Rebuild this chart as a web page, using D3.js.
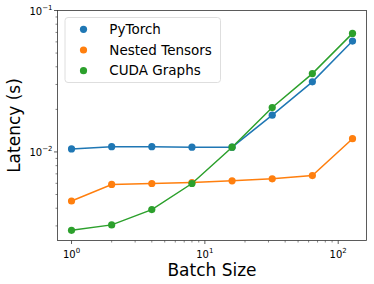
<!DOCTYPE html>
<html><head><meta charset="utf-8">
<script src="https://cdn.jsdelivr.net/npm/d3@7"></script>
<style>body{margin:0;background:#fff}svg{display:block}text{font-family:"DejaVu Sans",sans-serif}</style>
</head><body>
<script>
const batchSizes = [1, 2, 4, 8, 16, 32, 64, 128];
const pytorch = [0.0105, 0.0109, 0.0109, 0.0108, 0.0108, 0.0182, 0.0313, 0.0608];
const nested = [0.00450, 0.00589, 0.00598, 0.00608, 0.00625, 0.00645, 0.00681, 0.0124];
const cudaGraphs = [0.00279, 0.00305, 0.00391, 0.00598, 0.0108, 0.0206, 0.0358, 0.0689];
const seriesNames = ["PyTorch", "Nested Tensors", "CUDA Graphs"];
const colors = ["#1f77b4", "#ff7f0e", "#2ca02c"];
const xTicks = [1, 10, 100];
const yTicks = [0.01, 0.1];
const xTickLabels = ["0", "1", "2"];
const yTickLabels = ["−2", "−1"];

const W = 374, H = 284;
const L = 57.5, R = 366.5, T = 10.5, B = 240.5;
const svg = d3.select("body").append("svg").attr("width", W).attr("height", H);
const x = d3.scaleLog().domain([0.785, 163]).range([L, R]);
const y = d3.scaleLog().domain([0.002365, 0.1]).range([B, T]);

// minor ticks
const xMinor = [];
for (const d of [1, 10, 100]) for (let k = 2; k <= 9; k++) { const v = d * k; if (v >= 0.785 && v <= 163) xMinor.push(v); }
const yMinor = [];
for (const d of [0.001, 0.01]) for (let k = 2; k <= 9; k++) { const v = d * k; if (v >= 0.002365 && v <= 0.1) yMinor.push(v); }

const g = svg.append("g");
g.selectAll(".xmin").data(xMinor).join("line").attr("x1", d => x(d)).attr("x2", d => x(d)).attr("y1", B).attr("y2", B + 2).attr("stroke", "#333").attr("stroke-width", 0.6);
g.selectAll(".xmaj").data(xTicks).join("line").attr("x1", d => x(d)).attr("x2", d => x(d)).attr("y1", B).attr("y2", B + 3.5).attr("stroke", "#333").attr("stroke-width", 0.8);
g.selectAll(".ymin").data(yMinor).join("line").attr("y1", d => y(d)).attr("y2", d => y(d)).attr("x1", L).attr("x2", L - 2).attr("stroke", "#333").attr("stroke-width", 0.6);
g.selectAll(".ymaj").data(yTicks).join("line").attr("y1", d => y(d)).attr("y2", d => y(d)).attr("x1", L).attr("x2", L - 3.5).attr("stroke", "#333").attr("stroke-width", 0.8);

// tick labels
xTicks.forEach((t, i) => {
  const tx = g.append("text").attr("x", x(t)).attr("y", B + 17).attr("text-anchor", "middle").attr("font-size", 10).attr("fill", "#000");
  tx.append("tspan").text("10");
  tx.append("tspan").attr("dy", -4.5).attr("font-size", 7).text(xTickLabels[i]);
});
yTicks.forEach((t, i) => {
  const tx = g.append("text").attr("x", L - 5).attr("y", y(t) + 4).attr("text-anchor", "end").attr("font-size", 10).attr("fill", "#000");
  tx.append("tspan").text("10");
  tx.append("tspan").attr("dy", -4.5).attr("font-size", 7).text(yTickLabels[i]);
});

// lines
const data = [pytorch, nested, cudaGraphs];
const line = d3.line().x((d, i) => x(batchSizes[i])).y(d => y(d));
const clip = svg.append("clipPath").attr("id", "c").append("rect").attr("x", L).attr("y", T).attr("width", R - L).attr("height", B - T);
const pg = svg.append("g").attr("clip-path", "url(#c)");
data.forEach((s, k) => {
  pg.append("path").attr("d", line(s)).attr("fill", "none").attr("stroke", colors[k]).attr("stroke-width", 1.5);
  pg.selectAll(".p" + k).data(s).join("circle").attr("cx", (d, i) => x(batchSizes[i])).attr("cy", d => y(d)).attr("r", 3.6).attr("fill", colors[k]);
});

// frame
svg.append("rect").attr("x", L).attr("y", T).attr("width", R - L).attr("height", B - T).attr("fill", "none").attr("stroke", "#333").attr("stroke-width", 0.8);

// legend
const lg = svg.append("g");
lg.append("rect").attr("x", 65).attr("y", 17.5).attr("width", 155.5).attr("height", 65).attr("rx", 3).attr("fill", "#fff").attr("fill-opacity", 0.8).attr("stroke", "#d6d6d6").attr("stroke-width", 0.8);
seriesNames.forEach((n, k) => {
  const cy = 29.3 + k * 20.7;
  lg.append("circle").attr("cx", 83.5).attr("cy", cy).attr("r", 3.6).attr("fill", colors[k]);
  lg.append("text").attr("x", 109.3).attr("y", cy + 4.5).attr("font-size", 13.5).attr("fill", "#000").text(n);
});

// axis labels
svg.append("text").attr("x", (L + R) / 2).attr("y", 275.5).attr("text-anchor", "middle").attr("font-size", 17).attr("fill", "#000").text("Batch Size");
svg.append("text").attr("transform", `translate(20,${(T + B) / 2}) rotate(-90)`).attr("text-anchor", "middle").attr("font-size", 17).attr("fill", "#000").text("Latency (s)");
</script>
</body></html>
